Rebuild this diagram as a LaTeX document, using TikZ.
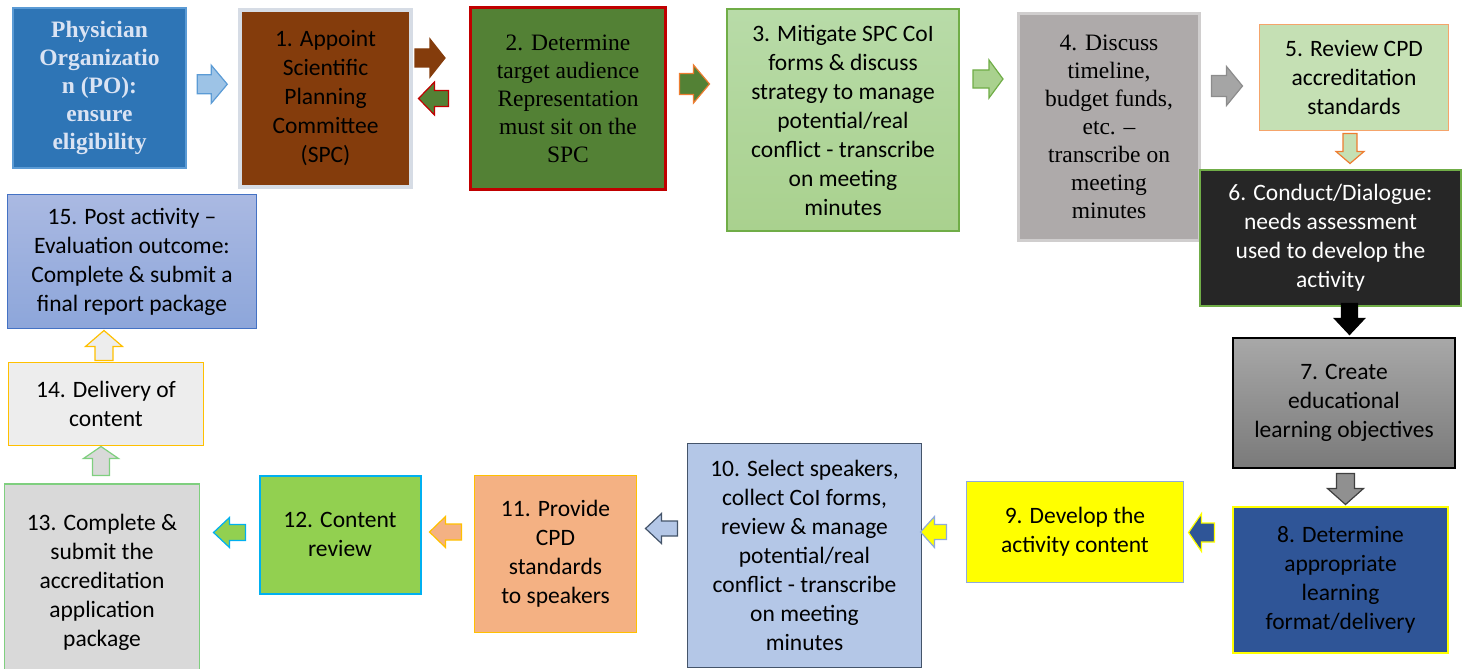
\documentclass[tikz,border=0pt]{standalone}
\usepackage{fontspec}
\setmainfont{Carlito}
\newfontfamily\tnr{Liberation Serif}
\usetikzlibrary{calc}

% colour palette
\definecolor{poblue}{HTML}{2E75B6}
\definecolor{potext}{HTML}{DAE3F3}
\definecolor{lblue}{HTML}{9DC3E6}
\definecolor{mblue}{HTML}{5B9BD5}
\definecolor{brown}{HTML}{843C0C}
\definecolor{frame1}{HTML}{D6DCE5}
\definecolor{dgreen}{HTML}{538135}
\definecolor{dred}{HTML}{C00000}
\definecolor{orng}{HTML}{ED7D31}
\definecolor{lorng}{HTML}{F5A46B}
\definecolor{mgreen}{HTML}{70AD47}
\definecolor{pgreen}{HTML}{A9D18E}
\definecolor{pgreentop}{HTML}{B8DBA8}
\definecolor{taupe}{HTML}{AEAAAA}
\definecolor{taupeframe}{HTML}{D0CECE}
\definecolor{gray5}{HTML}{A5A5A5}
\definecolor{gray5d}{HTML}{8C8C8C}
\definecolor{lgreen}{HTML}{C5E0B4}
\definecolor{blackbg}{HTML}{262626}
\definecolor{g7top}{HTML}{A8A8A8}
\definecolor{g7bot}{HTML}{7A7A7A}
\definecolor{navy}{HTML}{2F5597}
\definecolor{ylw}{HTML}{FFFF00}
\definecolor{periw}{HTML}{8FAADC}
\definecolor{steel}{HTML}{B4C7E7}
\definecolor{slate}{HTML}{44546A}
\definecolor{salmon}{HTML}{F4B183}
\definecolor{gold}{HTML}{FFC000}
\definecolor{lime}{HTML}{92D050}
\definecolor{cyan}{HTML}{00B0F0}
\definecolor{lgray}{HTML}{D9D9D9}
\definecolor{mintframe}{HTML}{7FCF7F}
\definecolor{offwhite}{HTML}{EDEDED}
\definecolor{b15top}{HTML}{AAB9E2}
\definecolor{b15bot}{HTML}{8DA6DA}
\definecolor{royal}{HTML}{4472C4}

\tikzset{
  x=1pt, y=-1pt,
  stepbox/.style={rectangle, align=center, inner sep=0pt,
    font=\fontsize{23.5}{29}\selectfont, text=black},
  serifbox/.style={stepbox, font=\tnr\fontsize{23.5}{28}\selectfont},
  % block arrow pointing right: {length}{shaft width}{head width}{head length}
  pics/barrow/.style n args={4}{code={
    \path[pic actions]
      ({-#1/2},{-#2/2}) -- ({#1/2-#4},{-#2/2}) -- ({#1/2-#4},{-#3/2})
      -- ({#1/2},0) -- ({#1/2-#4},{#3/2}) -- ({#1/2-#4},{#2/2})
      -- ({-#1/2},{#2/2}) -- cycle;
  }},
  arr/.style={line width=1.2pt, line join=miter},
}

\begin{document}
\begin{tikzpicture}
\useasboundingbox (0,0) rectangle (1467,669);

% ---------- top row ----------
\node[serifbox, fill=poblue, draw=mblue, line width=1.2pt,
  minimum width=173, minimum height=160, text=potext,
  font=\tnr\bfseries\fontsize{23.5}{28}\selectfont]
  (po) at (99.5,88) {Physician\\Organizatio\\n (PO):\\ensure\\eligibility};

\node[stepbox, fill=brown, draw=frame1, line width=4pt,
  minimum width=171, minimum height=177]
  (s1) at (325.5,98.5) {1. Appoint\\Scientific\\Planning\\Committee\\(SPC)};

\node[serifbox, fill=dgreen, draw=dred, line width=3pt,
  minimum width=195, minimum height=182]
  (s2) at (568,98.5) {2. Determine\\target audience\\Representation\\must sit on the\\SPC};

\node[stepbox, top color=pgreentop, bottom color=pgreen, draw=mgreen, line width=2pt,
  minimum width=232, minimum height=222]
  (s3) at (843,120) {3. Mitigate SPC CoI\\forms \& discuss\\strategy to manage\\potential/real\\conflict - transcribe\\on meeting\\minutes};

\node[serifbox, fill=taupe, draw=taupeframe, line width=3pt,
  minimum width=181, minimum height=227]
  (s4) at (1109,127) {4. Discuss\\timeline,\\budget funds,\\etc. –\\transcribe on\\meeting\\minutes};

\node[stepbox, fill=lgreen, draw=lorng, line width=1.5pt,
  minimum width=189, minimum height=106]
  (s5) at (1354,77.5) {5. Review CPD\\accreditation\\standards};

% ---------- right column ----------
\node[stepbox, fill=blackbg, draw=mgreen, line width=2pt, text=white,
  minimum width=261, minimum height=136]
  (s6) at (1330.5,238) {6. Conduct/Dialogue:\\needs assessment\\used to develop the\\activity};

\node[stepbox, top color=g7top, bottom color=g7bot, draw=black, line width=2pt,
  minimum width=222, minimum height=130]
  (s7) at (1344,403) {7. Create\\educational\\learning objectives};

\node[stepbox, fill=navy, draw=ylw, line width=2pt,
  minimum width=215, minimum height=146]
  (s8) at (1340.5,580) {8. Determine\\appropriate\\learning\\format/delivery};

% ---------- bottom row ----------
\node[stepbox, fill=ylw, draw=periw, line width=1.5pt,
  minimum width=217, minimum height=101]
  (s9) at (1075,532) {9. Develop the\\activity content};

\node[stepbox, fill=steel, draw=slate, line width=1.5pt,
  minimum width=234, minimum height=224]
  (s10) at (804.5,555.5) {10. Select speakers,\\collect CoI forms,\\review \& manage\\potential/real\\conflict - transcribe\\on meeting\\minutes};

\node[stepbox, fill=salmon, draw=gold, line width=1.5pt,
  minimum width=162, minimum height=157]
  (s11) at (555.5,554) {11. Provide\\CPD\\standards\\to speakers};

\node[stepbox, fill=lime, draw=cyan, line width=2pt,
  minimum width=161, minimum height=118]
  (s12) at (340,534.5) {12. Content\\review};

\node[stepbox, fill=lgray, draw=mintframe, line width=1.2pt,
  minimum width=195, minimum height=196]
  (s13) at (102,582) {13. Complete \&\\submit the\\accreditation\\application\\package};

% ---------- left column ----------
\node[stepbox, fill=offwhite, draw=gold, line width=1.5pt,
  minimum width=195, minimum height=83]
  (s14) at (106,404) {14. Delivery of\\content};

\node[stepbox, top color=b15top, bottom color=b15bot, draw=royal, line width=1.5pt,
  minimum width=249, minimum height=134]
  (s15) at (132,261.5) {15. Post activity –\\Evaluation outcome:\\Complete \& submit a\\final report package};

% ---------- block arrows between the steps ----------
\pic[arr, fill=lblue, draw=mblue] (a0) at ($(po.east)!0.5!(s1.west) + (0,-9)$) {barrow={30}{19}{38}{16}};
\pic[arr, fill=brown, draw=brown] (a1) at (430,58) {barrow={30}{18}{38}{15}};
\pic[arr, fill=dgreen, draw=dred, rotate=180] (a1b) at (433.5,98.5) {barrow={30}{16}{33}{16}};
\pic[arr, fill=dgreen, draw=orng] (a2) at (694.5,84) {barrow={30}{21}{38}{16}};
\pic[arr, fill=pgreen, draw=mgreen] (a3) at (988,79) {barrow={30}{18}{38}{14}};
\pic[arr, fill=gray5, draw=gray5d] (a4) at (1227,86) {barrow={31}{21}{39}{16}};
\pic[arr, fill=lgreen, draw=orng, rotate=-90] (a5) at (1350,148.5) {barrow={30}{14}{28}{12}};
\pic[arr, fill=black, draw=black, rotate=-90] (a6) at (1349.5,319) {barrow={31}{16}{30}{16}};
\pic[arr, fill=gray!55!black!60, draw=black!75, rotate=-90] (a7) at (1345.5,489) {barrow={31}{18}{36}{16}};
\pic[arr, fill=navy, draw=ylw, rotate=180] (a8) at (1201.5,532.5) {barrow={26}{19}{38}{13}};
\pic[arr, fill=ylw, draw=periw, rotate=180] (a9) at (933.5,532) {barrow={26}{15}{31}{14}};
\pic[arr, fill=steel, draw=slate, rotate=180] (a10) at (661.5,528.5) {barrow={32}{15}{30}{16}};
\pic[arr, fill=salmon, draw=gold, rotate=180] (a11) at (445.5,532) {barrow={32}{16}{31}{16}};
\pic[arr, fill=lime, draw=cyan, rotate=180] (a12) at (229.5,532.5) {barrow={32}{16}{30}{16}};
\pic[arr, fill=lgray, draw=mintframe, rotate=90] (a13) at (101,461) {barrow={29}{17}{35}{12}};
\pic[arr, fill=offwhite, draw=gold, rotate=90] (a14) at (104,345.5) {barrow={30}{18}{37}{16}};
\end{tikzpicture}
\end{document}
